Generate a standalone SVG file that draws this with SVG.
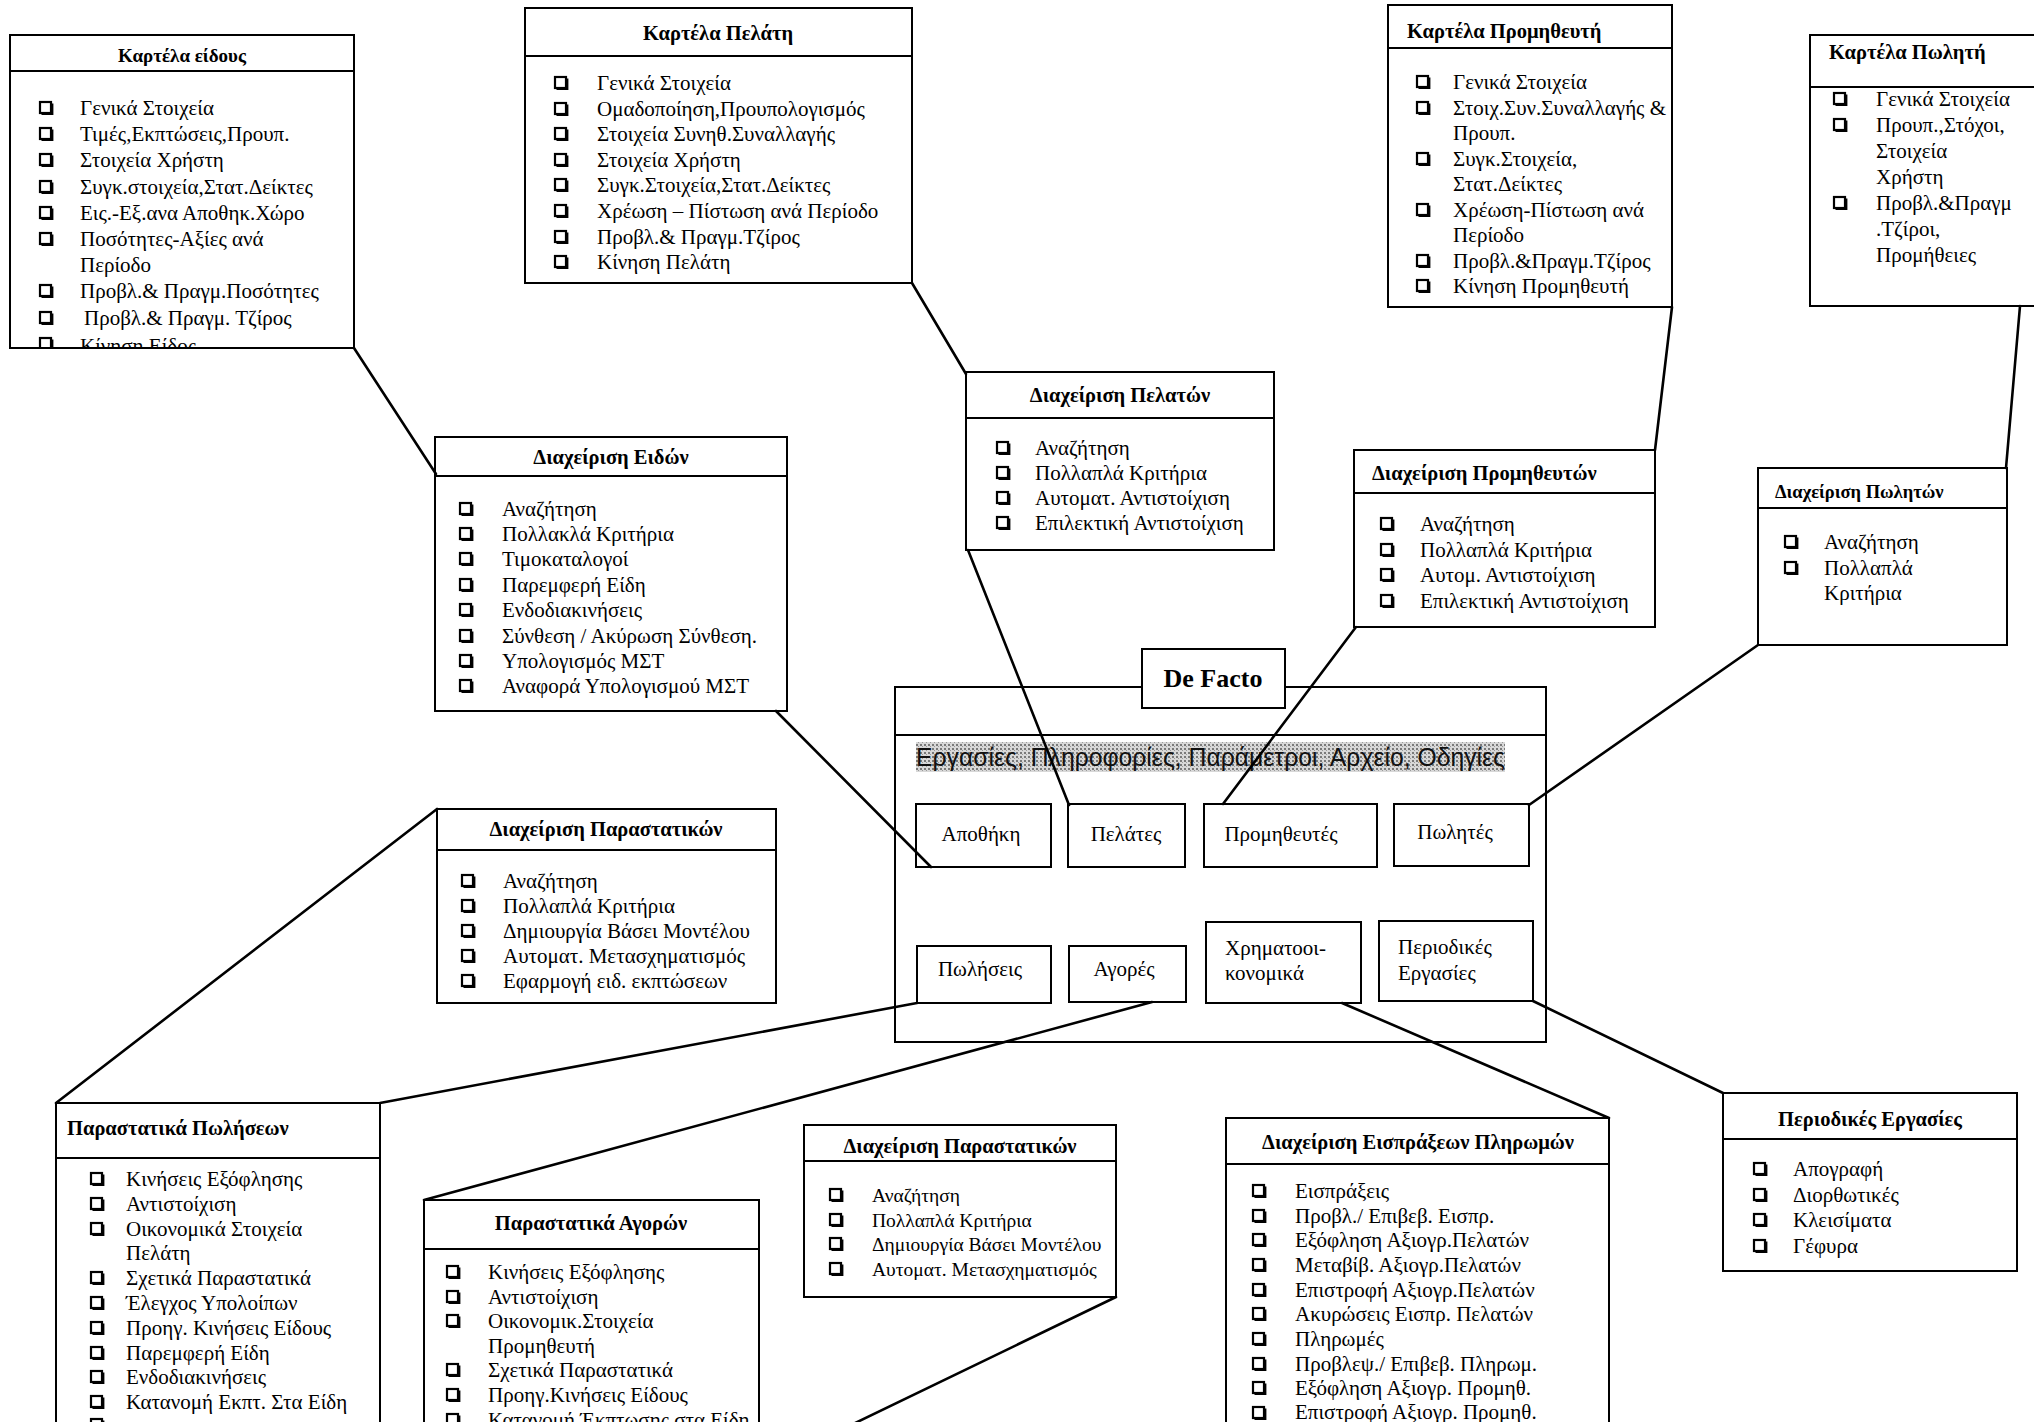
<svg xmlns="http://www.w3.org/2000/svg" width="2034" height="1422" viewBox="0 0 2034 1422">
<style>
.bx{fill:#fff;stroke:#000;stroke-width:2}
.ln{stroke:#000;stroke-width:2;fill:none}
.t{font-family:"Liberation Serif","Times New Roman",serif;font-size:21px;fill:#000}
.s{font-size:19.5px}
.h{font-family:"Liberation Serif","Times New Roman",serif;font-size:20.5px;font-weight:bold;fill:#000}
.m{text-anchor:middle}
.c{stroke:#000;stroke-width:2.6;fill:none;stroke-linecap:round}
</style>
<defs>
<g id="cb"><rect x="0" y="-13" width="11" height="11" fill="none" stroke="#000" stroke-width="2.2"/><path d="M1.5 -1 H12.5 V-11.5" fill="none" stroke="#000" stroke-width="1.8"/></g>
<pattern id="ht" width="4" height="4" patternUnits="userSpaceOnUse"><rect width="4" height="4" fill="#d8d8d8"/><rect width="2" height="2" fill="#7a7a7a"/><rect x="2" y="2" width="1" height="1" fill="#9a9a9a"/></pattern>
<clipPath id="clipEidos"><rect x="10" y="35" width="344" height="312"/></clipPath>
</defs>
<rect width="2034" height="1422" fill="#fff"/>

<g id="kartela-eidous">
<rect class="bx" x="10" y="35" width="344" height="313"/>
<line class="ln" x1="10" y1="71" x2="354" y2="71"/>
<text class="h m" x="182" y="62" style="font-size:19px">Καρτέλα είδους</text>
<g clip-path="url(#clipEidos)">
<use href="#cb" x="40" y="115"/><text class="t" x="80" y="115">Γενικά Στοιχεία</text>
<use href="#cb" x="40" y="141"/><text class="t" x="80" y="141">Τιμές,Εκπτώσεις,Προυπ.</text>
<use href="#cb" x="40" y="167"/><text class="t" x="80" y="167">Στοιχεία Χρήστη</text>
<use href="#cb" x="40" y="194"/><text class="t" x="80" y="194">Συγκ.στοιχεία,Στατ.Δείκτες</text>
<use href="#cb" x="40" y="220"/><text class="t" x="80" y="220">Εις.-Εξ.ανα Αποθηκ.Χώρο</text>
<use href="#cb" x="40" y="246"/><text class="t" x="80" y="246">Ποσότητες-Αξίες ανά</text>
<text class="t" x="80" y="272">Περίοδο</text>
<use href="#cb" x="40" y="298"/><text class="t" x="80" y="298">Προβλ.&amp; Πραγμ.Ποσότητες</text>
<use href="#cb" x="40" y="325"/><text class="t" x="84" y="325">Προβλ.&amp; Πραγμ. Τζίρος</text>
<use href="#cb" x="40" y="351"/><text class="t" x="80" y="353">Κίνηση Είδος</text>
</g>
</g>

<g id="kartela-pelati">
<rect class="bx" x="525" y="8" width="387" height="275"/>
<line class="ln" x1="525" y1="56" x2="912" y2="56"/>
<text class="h m" x="718" y="40">Καρτέλα Πελάτη</text>
<use href="#cb" x="555" y="90"/><text class="t" x="597" y="90">Γενικά Στοιχεία</text>
<use href="#cb" x="555" y="116"/><text class="t" x="597" y="116">Ομαδοποίηση,Προυπολογισμός</text>
<use href="#cb" x="555" y="141"/><text class="t" x="597" y="141">Στοιχεία Συνηθ.Συναλλαγής</text>
<use href="#cb" x="555" y="167"/><text class="t" x="597" y="167">Στοιχεία Χρήστη</text>
<use href="#cb" x="555" y="192"/><text class="t" x="597" y="192">Συγκ.Στοιχεία,Στατ.Δείκτες</text>
<use href="#cb" x="555" y="218"/><text class="t" x="597" y="218">Χρέωση – Πίστωση ανά Περίοδο</text>
<use href="#cb" x="555" y="244"/><text class="t" x="597" y="244">Προβλ.&amp; Πραγμ.Τζίρος</text>
<use href="#cb" x="555" y="269"/><text class="t" x="597" y="269">Κίνηση Πελάτη</text>
</g>

<g id="kartela-promitheuti">
<rect class="bx" x="1388" y="5" width="284" height="302"/>
<line class="ln" x1="1388" y1="48" x2="1672" y2="48"/>
<text class="h" x="1407" y="38">Καρτέλα Προμηθευτή</text>
<use href="#cb" x="1417" y="89"/><text class="t" x="1453" y="89">Γενικά Στοιχεία</text>
<use href="#cb" x="1417" y="115"/><text class="t" x="1453" y="115">Στοιχ.Συν.Συναλλαγής &amp;</text>
<text class="t" x="1453" y="140">Προυπ.</text>
<use href="#cb" x="1417" y="166"/><text class="t" x="1453" y="166">Συγκ.Στοιχεία,</text>
<text class="t" x="1453" y="191">Στατ.Δείκτες</text>
<use href="#cb" x="1417" y="217"/><text class="t" x="1453" y="217">Χρέωση-Πίστωση ανά</text>
<text class="t" x="1453" y="242">Περίοδο</text>
<use href="#cb" x="1417" y="268"/><text class="t" x="1453" y="268">Προβλ.&amp;Πραγμ.Τζίρος</text>
<use href="#cb" x="1417" y="293"/><text class="t" x="1453" y="293">Κίνηση Προμηθευτή</text>
</g>

<g id="kartela-politi">
<rect class="bx" x="1810" y="35" width="240" height="271"/>
<line class="ln" x1="1810" y1="87" x2="2040" y2="87"/>
<text class="h" x="1829" y="59">Καρτέλα Πωλητή</text>
<use href="#cb" x="1834" y="106"/><text class="t" x="1876" y="106">Γενικά Στοιχεία</text>
<use href="#cb" x="1834" y="132"/><text class="t" x="1876" y="132">Προυπ.,Στόχοι,</text>
<text class="t" x="1876" y="158">Στοιχεία</text>
<text class="t" x="1876" y="184">Χρήστη</text>
<use href="#cb" x="1834" y="210"/><text class="t" x="1876" y="210">Προβλ.&amp;Πραγμ</text>
<text class="t" x="1876" y="236">.Τζίροι,</text>
<text class="t" x="1876" y="262">Προμήθειες</text>
</g>

<g id="diax-eidon">
<rect class="bx" x="435" y="437" width="352" height="274"/>
<line class="ln" x1="435" y1="476" x2="787" y2="476"/>
<text class="h m" x="611" y="464">Διαχείριση Ειδών</text>
<use href="#cb" x="460" y="516"/><text class="t" x="502" y="516">Αναζήτηση</text>
<use href="#cb" x="460" y="541"/><text class="t" x="502" y="541">Πολλακλά Κριτήρια</text>
<use href="#cb" x="460" y="566"/><text class="t" x="502" y="566">Τιμοκαταλογοί</text>
<use href="#cb" x="460" y="592"/><text class="t" x="502" y="592">Παρεμφερή Είδη</text>
<use href="#cb" x="460" y="617"/><text class="t" x="502" y="617">Ενδοδιακινήσεις</text>
<use href="#cb" x="460" y="643"/><text class="t" x="502" y="643">Σύνθεση / Ακύρωση Σύνθεση.</text>
<use href="#cb" x="460" y="668"/><text class="t" x="502" y="668">Υπολογισμός ΜΣΤ</text>
<use href="#cb" x="460" y="693"/><text class="t" x="502" y="693">Αναφορά Υπολογισμού ΜΣΤ</text>
</g>

<g id="diax-pelaton">
<rect class="bx" x="966" y="372" width="308" height="178"/>
<line class="ln" x1="966" y1="418" x2="1274" y2="418"/>
<text class="h m" x="1120" y="402">Διαχείριση Πελατών</text>
<use href="#cb" x="997" y="455"/><text class="t" x="1035" y="455">Αναζήτηση</text>
<use href="#cb" x="997" y="480"/><text class="t" x="1035" y="480">Πολλαπλά Κριτήρια</text>
<use href="#cb" x="997" y="505"/><text class="t" x="1035" y="505">Αυτοματ. Αντιστοίχιση</text>
<use href="#cb" x="997" y="530"/><text class="t" x="1035" y="530">Επιλεκτική Αντιστοίχιση</text>
</g>

<g id="diax-promitheuton">
<rect class="bx" x="1354" y="450" width="301" height="177"/>
<line class="ln" x1="1354" y1="493" x2="1655" y2="493"/>
<text class="h" x="1372" y="480">Διαχείριση Προμηθευτών</text>
<use href="#cb" x="1381" y="531"/><text class="t" x="1420" y="531">Αναζήτηση</text>
<use href="#cb" x="1381" y="557"/><text class="t" x="1420" y="557">Πολλαπλά Κριτήρια</text>
<use href="#cb" x="1381" y="582"/><text class="t" x="1420" y="582">Αυτομ. Αντιστοίχιση</text>
<use href="#cb" x="1381" y="608"/><text class="t" x="1420" y="608">Επιλεκτική Αντιστοίχιση</text>
</g>

<g id="diax-politon">
<rect class="bx" x="1758" y="468" width="249" height="177"/>
<line class="ln" x1="1758" y1="508" x2="2007" y2="508"/>
<text class="h" x="1775" y="498" style="font-size:18.5px">Διαχείριση Πωλητών</text>
<use href="#cb" x="1785" y="549"/><text class="t" x="1824" y="549">Αναζήτηση</text>
<use href="#cb" x="1785" y="575"/><text class="t" x="1824" y="575">Πολλαπλά</text>
<text class="t" x="1824" y="600">Κριτήρια</text>
</g>

<g id="diax-parastatikon-1">
<rect class="bx" x="437" y="809" width="339" height="194"/>
<line class="ln" x1="437" y1="850" x2="776" y2="850"/>
<text class="h m" x="606" y="836">Διαχείριση Παραστατικών</text>
<use href="#cb" x="462" y="888"/><text class="t" x="503" y="888">Αναζήτηση</text>
<use href="#cb" x="462" y="913"/><text class="t" x="503" y="913">Πολλαπλά Κριτήρια</text>
<use href="#cb" x="462" y="938"/><text class="t" x="503" y="938">Δημιουργία Βάσει  Μοντέλου</text>
<use href="#cb" x="462" y="963"/><text class="t" x="503" y="963">Αυτοματ. Μετασχηματισμός</text>
<use href="#cb" x="462" y="988"/><text class="t" x="503" y="988">Εφαρμογή ειδ. εκπτώσεων</text>
</g>

<g id="defacto">
<rect class="bx" x="895" y="687" width="651" height="355"/>
<line class="ln" x1="895" y1="735" x2="1546" y2="735"/>
<rect class="bx" x="1142" y="649" width="143" height="59"/>
<text class="h m" x="1213" y="687" style="font-size:26px">De Facto</text>
<rect x="916" y="742" width="589" height="30" fill="url(#ht)"/>
<text x="916" y="766" textLength="589" lengthAdjust="spacingAndGlyphs" style="font-family:'Liberation Sans',Arial,sans-serif;font-size:26px;fill:#111">Εργασίες, Πληροφορίες, Παράμετροι, Αρχείο, Οδηγίες</text>
</g>

<g id="apothiki"><rect class="bx" x="916" y="804" width="135" height="63"/><text class="t m" x="981" y="841">Αποθήκη</text></g>
<g id="pelates"><rect class="bx" x="1068" y="804" width="117" height="63"/><text class="t m" x="1126" y="841">Πελάτες</text></g>
<g id="promitheutes"><rect class="bx" x="1204" y="804" width="173" height="63"/><text class="t m" x="1281" y="841">Προμηθευτές</text></g>
<g id="polites"><rect class="bx" x="1394" y="804" width="135" height="62"/><text class="t m" x="1455" y="839">Πωλητές</text></g>
<g id="poliseis"><rect class="bx" x="917" y="946" width="134" height="57"/><text class="t m" x="980" y="976">Πωλήσεις</text></g>
<g id="agores"><rect class="bx" x="1069" y="946" width="117" height="56"/><text class="t m" x="1124" y="976">Αγορές</text></g>
<g id="xrimatooikonomika"><rect class="bx" x="1206" y="922" width="155" height="81"/><text class="t" x="1225" y="955">Χρηματοοι-</text><text class="t" x="1225" y="980">κονομικά</text></g>
<g id="periodikes"><rect class="bx" x="1379" y="921" width="154" height="80"/><text class="t" x="1398" y="954">Περιοδικές</text><text class="t" x="1398" y="980">Εργασίες</text></g>

<g id="parastatika-poliseon">
<rect class="bx" x="56" y="1103" width="324" height="340"/>
<line class="ln" x1="56" y1="1158" x2="380" y2="1158"/>
<text class="h" x="67" y="1135">Παραστατικά Πωλήσεων</text>
<use href="#cb" x="91" y="1186"/><text class="t" x="126" y="1186">Κινήσεις Εξόφλησης</text>
<use href="#cb" x="91" y="1211"/><text class="t" x="126" y="1211">Αντιστοίχιση</text>
<use href="#cb" x="91" y="1236"/><text class="t" x="126" y="1236">Οικονομικά Στοιχεία</text>
<text class="t" x="126" y="1260">Πελάτη</text>
<use href="#cb" x="91" y="1285"/><text class="t" x="126" y="1285">Σχετικά Παραστατικά</text>
<use href="#cb" x="91" y="1310"/><text class="t" x="126" y="1310">Έλεγχος Υπολοίπων</text>
<use href="#cb" x="91" y="1335"/><text class="t" x="126" y="1335">Προηγ. Κινήσεις Είδους</text>
<use href="#cb" x="91" y="1360"/><text class="t" x="126" y="1360">Παρεμφερή Είδη</text>
<use href="#cb" x="91" y="1384"/><text class="t" x="126" y="1384">Ενδοδιακινήσεις</text>
<use href="#cb" x="91" y="1409"/><text class="t" x="126" y="1409">Κατανομή Εκπτ. Στα Είδη</text>
<use href="#cb" x="91" y="1432"/>
</g>

<g id="parastatika-agoron">
<rect class="bx" x="424" y="1200" width="335" height="243"/>
<line class="ln" x1="424" y1="1249" x2="759" y2="1249"/>
<text class="h m" x="591" y="1230">Παραστατικά Αγορών</text>
<use href="#cb" x="447" y="1279"/><text class="t" x="488" y="1279">Κινήσεις Εξόφλησης</text>
<use href="#cb" x="447" y="1304"/><text class="t" x="488" y="1304">Αντιστοίχιση</text>
<use href="#cb" x="447" y="1328"/><text class="t" x="488" y="1328">Οικονομικ.Στοιχεία</text>
<text class="t" x="488" y="1353">Προμηθευτή</text>
<use href="#cb" x="447" y="1377"/><text class="t" x="488" y="1377">Σχετικά Παραστατικά</text>
<use href="#cb" x="447" y="1402"/><text class="t" x="488" y="1402">Προηγ.Κινήσεις Είδους</text>
<use href="#cb" x="447" y="1427"/><text class="t" x="488" y="1427">Κατανομή Έκπτωσης στα Είδη</text>
</g>

<g id="diax-parastatikon-2">
<rect class="bx" x="804" y="1125" width="312" height="172"/>
<line class="ln" x1="804" y1="1161" x2="1116" y2="1161"/>
<text class="h m" x="960" y="1153">Διαχείριση Παραστατικών</text>
<use href="#cb" x="830" y="1202"/><text class="t s" x="872" y="1202">Αναζήτηση</text>
<use href="#cb" x="830" y="1227"/><text class="t s" x="872" y="1227">Πολλαπλά Κριτήρια</text>
<use href="#cb" x="830" y="1251"/><text class="t s" x="872" y="1251">Δημιουργία Βάσει  Μοντέλου</text>
<use href="#cb" x="830" y="1276"/><text class="t s" x="872" y="1276">Αυτοματ. Μετασχηματισμός</text>
</g>

<g id="diax-eispraxeon">
<rect class="bx" x="1226" y="1118" width="383" height="325"/>
<line class="ln" x1="1226" y1="1164" x2="1609" y2="1164"/>
<text class="h m" x="1418" y="1149">Διαχείριση Εισπράξεων Πληρωμών</text>
<use href="#cb" x="1253" y="1198"/><text class="t" x="1295" y="1198">Εισπράξεις</text>
<use href="#cb" x="1253" y="1223"/><text class="t" x="1295" y="1223">Προβλ./ Επιβεβ. Εισπρ.</text>
<use href="#cb" x="1253" y="1247"/><text class="t" x="1295" y="1247">Εξόφληση Αξιογρ.Πελατών</text>
<use href="#cb" x="1253" y="1272"/><text class="t" x="1295" y="1272">Μεταβίβ. Αξιογρ.Πελατών</text>
<use href="#cb" x="1253" y="1297"/><text class="t" x="1295" y="1297">Επιστροφή Αξιογρ.Πελατών</text>
<use href="#cb" x="1253" y="1321"/><text class="t" x="1295" y="1321">Ακυρώσεις Εισπρ. Πελατών</text>
<use href="#cb" x="1253" y="1346"/><text class="t" x="1295" y="1346">Πληρωμές</text>
<use href="#cb" x="1253" y="1371"/><text class="t" x="1295" y="1371">Προβλεψ./ Επιβεβ. Πληρωμ.</text>
<use href="#cb" x="1253" y="1395"/><text class="t" x="1295" y="1395">Εξόφληση Αξιογρ. Προμηθ.</text>
<use href="#cb" x="1253" y="1420"/><text class="t" x="1295" y="1419">Επιστροφή Αξιογρ. Προμηθ.</text>
</g>

<g id="periodikes-ergasies">
<rect class="bx" x="1723" y="1093" width="294" height="178"/>
<line class="ln" x1="1723" y1="1139" x2="2017" y2="1139"/>
<text class="h m" x="1870" y="1126">Περιοδικές Εργασίες</text>
<use href="#cb" x="1754" y="1176"/><text class="t" x="1793" y="1176">Απογραφή</text>
<use href="#cb" x="1754" y="1202"/><text class="t" x="1793" y="1202">Διορθωτικές</text>
<use href="#cb" x="1754" y="1227"/><text class="t" x="1793" y="1227">Κλεισίματα</text>
<use href="#cb" x="1754" y="1253"/><text class="t" x="1793" y="1253">Γέφυρα</text>
</g>

<g id="connectors">
<line class="c" x1="354" y1="348" x2="436" y2="474"/>
<line class="c" x1="776" y1="711" x2="931" y2="867"/>
<line class="c" x1="912" y1="283" x2="966" y2="374"/>
<line class="c" x1="968" y1="550" x2="1069" y2="805"/>
<line class="c" x1="1672" y1="307" x2="1655" y2="450"/>
<line class="c" x1="1356" y1="627" x2="1223" y2="804"/>
<line class="c" x1="2020" y1="306" x2="2006" y2="468"/>
<line class="c" x1="1758" y1="645" x2="1529" y2="805"/>
<line class="c" x1="917" y1="1003" x2="380" y2="1103"/>
<line class="c" x1="437" y1="809" x2="56" y2="1103"/>
<line class="c" x1="1152" y1="1002" x2="424" y2="1200"/>
<line class="c" x1="1342" y1="1003" x2="1609" y2="1118"/>
<line class="c" x1="1533" y1="1001" x2="1723" y2="1093"/>
<line class="c" x1="1116" y1="1297" x2="820" y2="1440"/>
</g>
</svg>
